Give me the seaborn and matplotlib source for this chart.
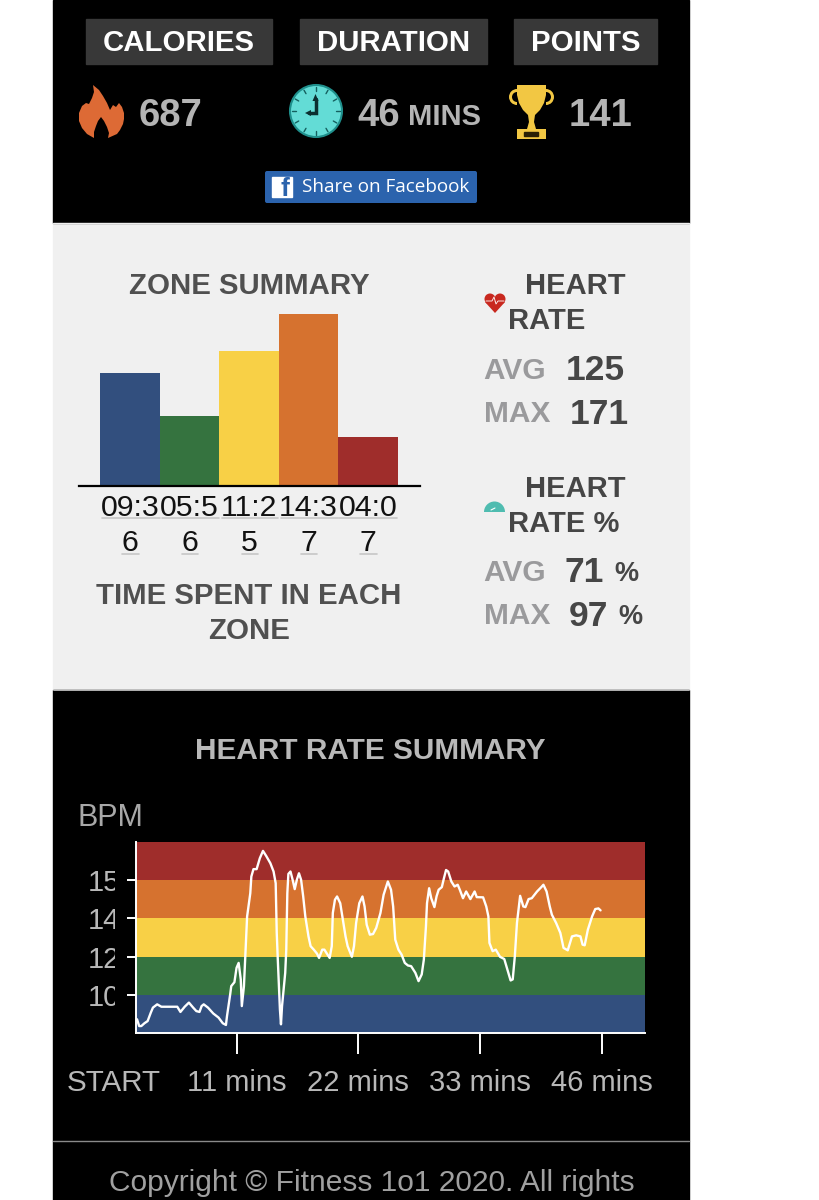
import matplotlib
matplotlib.use('Agg')
import matplotlib.pyplot as plt
from matplotlib.patches import Rectangle, Polygon, Circle, Wedge, FancyBboxPatch
from matplotlib.transforms import Bbox
import numpy as np
import pandas as pd
import seaborn as sns

# zone summary
zone_labels = ['09:36', '05:56', '11:25', '14:37', '04:07']
zone_seconds = [576, 356, 685, 877, 247]
zone_colors = ['#324f7e', '#35733f', '#f8d046', '#d6722f', '#9f2d2b']

# heart rate trace
hr_minutes = [2.0, 2.1, 2.3, 2.5, 2.8, 3.1, 3.4, 3.6, 4.0, 4.4, 5.2, 5.9, 6.2, 6.6, 7.0, 7.4, 7.7, 8.0, 8.2, 8.4,
              8.8, 9.3, 9.8, 10.2, 10.5, 10.6, 10.9, 11.0, 11.3, 11.5, 11.7, 11.9, 12.0, 12.2, 12.3, 12.4, 12.5, 12.8,
              12.9, 13.1, 13.4, 13.7, 14.0, 14.3, 14.7, 15.0, 15.2, 15.3, 15.4, 15.6, 15.7, 15.8, 16.1, 16.2, 16.3,
              16.4, 16.6, 16.8, 17.0, 17.2, 17.4, 17.6, 17.8, 18.0, 18.3, 18.5, 18.8, 19.1, 19.3, 19.6, 19.8, 20.3,
              20.5, 20.6, 20.8, 21.0, 21.3, 21.5, 21.8, 22.0, 22.4, 22.6, 22.8, 23.1, 23.4, 23.6, 23.8, 24.1, 24.4,
              24.7, 25.1, 25.4, 25.8, 26.1, 26.3, 26.5, 26.8, 27.1, 27.4, 27.7, 28.0, 28.4, 28.7, 29.0, 29.2, 29.4,
              29.5, 29.7, 29.9, 30.2, 30.4, 30.6, 30.9, 31.1, 31.3, 31.5, 31.8, 32.1, 32.4, 32.6, 32.9, 33.2, 33.6,
              34.0, 34.2, 34.8, 35.1, 35.3, 35.4, 35.7, 36.0, 36.4, 36.8, 37.1, 37.4, 37.6, 37.8, 38.0, 38.3, 38.6,
              38.8, 39.1, 39.4, 39.9, 40.3, 40.5, 40.8, 41.1, 41.3, 41.7, 42.1, 42.4, 42.8, 43.2, 43.6, 44.0, 44.2,
              44.4, 44.7, 45.1, 45.4, 45.7, 45.9]
hr_bpm = [94.3, 94.3, 91.2, 91.2, 92.5, 93.5, 97.4, 99.7, 101.2, 100.1, 100.1, 100.1, 97.7, 100.1, 102.0, 99.7, 98.1,
          97.7, 100.4, 101.2, 99.7, 97.0, 95.1, 92.5, 91.7, 95.8, 105.8, 109.6, 111.4, 118.0, 120.3, 112.7, 100.4,
          109.6, 120.3, 131.0, 141.7, 152.4, 160.1, 163.5, 163.5, 168.5, 171.9, 169.6, 166.2, 162.4, 157.0, 134.1,
          121.8, 98.9, 92.0, 100.4, 115.7, 126.4, 152.4, 161.3, 162.4, 158.6, 154.3, 158.6, 161.6, 158.6, 150.9,
          141.7, 132.5, 128.0, 126.4, 124.6, 122.6, 126.4, 126.4, 122.6, 128.0, 143.3, 149.4, 150.9, 147.8, 141.7,
          132.5, 128.0, 123.1, 128.0, 138.7, 147.8, 150.9, 146.3, 137.9, 133.3, 133.6, 136.4, 143.3, 151.7, 157.8,
          154.0, 146.3, 131.0, 126.4, 124.1, 120.3, 119.1, 118.8, 115.7, 111.9, 115.0, 121.8, 137.1, 147.8, 154.7,
          150.1, 146.0, 150.9, 154.0, 155.2, 159.3, 163.1, 162.4, 157.8, 155.5, 156.3, 154.0, 150.1, 153.2, 149.7,
          153.2, 150.6, 150.5, 146.3, 141.7, 129.5, 125.7, 126.4, 123.1, 122.1, 117.2, 112.2, 112.7, 123.4, 138.7,
          151.2, 146.3, 146.0, 149.7, 150.1, 153.2, 155.2, 156.3, 153.2, 146.3, 142.5, 138.7, 134.1, 127.2, 126.1,
          132.5, 133.0, 132.5, 128.7, 128.4, 135.6, 141.7, 145.1, 145.4, 144.5]
hr_band_edges = [88, 105.6, 123.2, 140.8, 158.4, 176]
hr_ticks = [105.6, 123.2, 140.8, 158.4]
hr_tick_labels = ['105', '123', '140', '158']
time_ticks = [11.5, 23, 34.5, 46]
time_labels = ['11 mins', '22 mins', '33 mins', '46 mins']

W, H = 819, 1200
sns.set_theme(style='white')
plt.rcParams['font.family'] = ['Liberation Sans', 'DejaVu Sans']
fig = plt.figure(figsize=(W / 100, H / 100), dpi=100, facecolor='white')


def px_axes(left, top, right, bottom):
    return fig.add_axes([left / W, 1 - bottom / H, (right - left) / W, (bottom - top) / H])


# page layer, in pixels
page = fig.add_axes([0, 0, 1, 1])
page.set_xlim(0, W)
page.set_ylim(H, 0)
page.axis('off')
page.add_patch(Rectangle((53, 0), 636, 223, color='black'))
page.add_patch(Rectangle((53, 223), 636, 467, color='#f0f0f0'))
page.add_patch(Rectangle((53, 690), 636, 510, color='black'))
page.plot([53, 689], [1141, 1141], color='#8a8a8a', lw=1)
page.plot([53, 689], [223.5, 223.5], color='#d0d0d0', lw=0.6)
page.plot([53, 689], [689.5, 689.5], color='#d0d0d0', lw=0.6)


def txt(x, y, s, size, color, weight='normal', ha='left'):
    # +2 because va center sits a little high for caps
    return page.text(x, y + 2, s, fontsize=size, color=color, fontweight=weight, ha=ha, va='center')


# header boxes
for x0, x1, label in [(86, 272, 'CALORIES'), (300, 487, 'DURATION'), (514, 657, 'POINTS')]:
    page.add_patch(Rectangle((x0, 19), x1 - x0, 45, color='#383838'))
    txt((x0 + x1) / 2, 41, label, 21.2, 'white', 'bold', 'center')

grey = '#b4b4b4'
txt(139, 114, '687', 27.5, grey, 'bold')
txt(357, 114, '46', 27.5, grey, 'bold')
txt(408, 115, 'MINS', 21, grey, 'bold')
txt(569, 114, '141', 27.5, grey, 'bold')

# flame
page.add_patch(Polygon([(93, 85), (99, 90), (103, 96), (107, 103), (110, 110), (113, 105), (116, 107), (119, 103),
                        (122, 107), (124, 113), (124, 119), (123, 124), (120, 130), (117, 134), (108, 138), (109, 133),
                        (107, 127), (104, 121), (101, 117), (98, 121), (96, 126), (94, 132), (94, 138), (87, 134),
                        (82, 128), (79, 121), (79, 113), (82, 106), (86, 103), (89, 104), (92, 98), (94, 92)],
                       closed=True, color='#dd6a35', lw=0))
# clock
page.add_patch(Circle((316, 111), 26, fc='#63dcd6', ec='#1f8f8c', lw=1.5))
for a in np.arange(0, 360, 30):
    ca, sa = np.cos(np.radians(a)), np.sin(np.radians(a))
    page.plot([316 + 20 * ca, 316 + 24 * ca], [111 + 20 * sa, 111 + 24 * sa], color='#15605f', lw=1)
page.plot([315.5, 315.5, 309], [99, 113, 113], color='#0c2f30', lw=2.5, solid_joinstyle='miter')
page.add_patch(Polygon([(315.5, 94), (312.5, 101), (318.5, 101)], closed=True, color='#0c2f30', lw=0))
page.add_patch(Polygon([(305, 113), (311, 110), (311, 116)], closed=True, color='#0c2f30', lw=0))
# trophy
page.add_patch(Polygon([(517, 85), (546, 85), (546, 95), (544, 103), (540, 110), (535, 115), (534, 122), (536, 129),
                        (546, 129), (546, 139), (517, 139), (517, 129), (527, 129), (529, 122), (528, 115),
                        (523, 110), (519, 103), (517, 95)],
                       closed=True, color='#f2c743', lw=0))
page.add_patch(Rectangle((524, 132), 14, 3.5, color='#2a2005'))
page.add_patch(Wedge((517, 97), 8, 90, 270, width=3, color='#f2c743', lw=0))
page.add_patch(Wedge((546, 97), 8, -90, 90, width=3, color='#f2c743', lw=0))

# facebook button
page.add_patch(FancyBboxPatch((265, 171), 212, 32, boxstyle='round,pad=0,rounding_size=2', fc='#2b63ad', ec='none'))
page.add_patch(Rectangle((272, 177), 20, 20, color='white'))
txt(285, 187, 'f', 19, '#2b63ad', 'bold', 'center')
share = txt(302, 185, 'Share on Facebook', 13.6, 'white', 'normal')
share.set_family(['Open Sans', 'DejaVu Sans'])

# zone panel text
dark = '#464646'
mid = '#9a9a9c'
txt(249, 284, 'ZONE SUMMARY', 21.2, '#505050', 'bold', 'center')
txt(249, 594, 'TIME SPENT IN EACH', 21.2, '#505050', 'bold', 'center')
txt(249, 629, 'ZONE', 21.2, '#505050', 'bold', 'center')

txt(525, 284, 'HEART', 21, dark, 'bold')
txt(508, 319, 'RATE', 21, dark, 'bold')
txt(525, 487, 'HEART', 21, dark, 'bold')
txt(508, 522, 'RATE %', 21, dark, 'bold')
for y, lab, x, val, unit in [(369, 'AVG', 566, '125', ''), (412, 'MAX', 570, '171', ''),
                             (571, 'AVG', 565, '71', '%'), (614, 'MAX', 569, '97', '%')]:
    txt(483.5, y, lab, 21.5, mid, 'bold')
    txt(x, y, val, 25.5, dark, 'bold')
    if unit:
        txt(x + 49, y + 1, unit, 19.5, dark, 'bold')

# heart icon
page.add_patch(Circle((490, 299), 5.5, color='#c8281f', lw=0))
page.add_patch(Circle((500, 299), 5.5, color='#c8281f', lw=0))
page.add_patch(Polygon([(485, 302), (505, 302), (495, 313)], closed=True, color='#c8281f', lw=0))
page.plot([486, 492, 494, 496, 498, 504], [301, 301, 297, 304, 301, 301], color='white', lw=0.6)
# gauge icon, y runs downward on this layer
page.add_patch(Wedge((494.5, 512), 10.5, 180, 360, color='#4fbcb0', lw=0))
page.plot([491, 495], [510, 508], color='white', lw=0.8)

# heart rate panel text
txt(370, 749, 'HEART RATE SUMMARY', 21.4, '#b9b9b9', 'bold', 'center')
txt(77, 816, 'BPM', 22, '#a8a8a8')
txt(114, 1081, 'START', 21.3, '#b8b8b8', 'normal', 'center')
txt(109, 1181, 'Copyright \u00a9 Fitness 1o1 2020. All rights', 21.5, '#a0a0a0')

# zone bars
ax1 = px_axes(79, 300, 420, 486)
zone_df = pd.DataFrame({'zone': zone_labels, 'seconds': zone_seconds})
sns.barplot(data=zone_df, x='zone', y='seconds', hue='zone', palette=zone_colors, legend=False,
            width=1.0, saturation=1, linewidth=0, edgecolor='none', ax=ax1)
ax1.set_xlim(-0.856, 4.87)
ax1.set_ylim(0, 186 / 0.1965)
ax1.set_xlabel('')
ax1.set_ylabel('')
ax1.set_yticks([])
ax1.patch.set_alpha(0)
sns.despine(ax=ax1, left=True)
ax1.spines['bottom'].set_color('black')
ax1.spines['bottom'].set_linewidth(1.6)
ax1.set_xticks(range(5))
# labels wrap in their narrow cells
ax1.set_xticklabels([z[:4] + '\n' + z[4:] for z in zone_labels], fontsize=21.8, color='#111111', linespacing=1.32)
ax1.tick_params(axis='x', length=0, pad=5.5)

# link underlines below the time labels
for x0, x1 in [(102, 160), (162, 219), (222, 278), (281, 338), (339, 397)]:
    page.plot([x0, x1], [518, 518], color='#c6c6c6', lw=1.2, zorder=5)
for x0, x1 in [(122, 139), (182, 198), (242, 258), (301, 317), (360, 377)]:
    page.plot([x0, x1], [554, 554], color='#c6c6c6', lw=1.2, zorder=5)

# heart rate chart
ax2 = px_axes(136, 842, 645, 1033)
for lo, hi, c in zip(hr_band_edges[:-1], hr_band_edges[1:], zone_colors):
    ax2.axhspan(lo, hi, color=c, lw=0, zorder=0)
hr_df = pd.DataFrame({'minute': hr_minutes, 'bpm': hr_bpm})
sns.lineplot(data=hr_df, x='minute', y='bpm', color='white', lw=1.7, ax=ax2, zorder=3)
ax2.set_xlim(2.0, 50.1)
ax2.set_ylim(88, 176)
ax2.set_xlabel('')
ax2.set_ylabel('')
ax2.set_xticks(time_ticks)
ax2.set_xticklabels(time_labels, fontsize=21, color='#b8b8b8')
ax2.set_yticks(hr_ticks)
ax2.set_yticklabels(hr_tick_labels, fontsize=21, color='#b8b8b8', ha='left')
ax2.tick_params(axis='x', bottom=True, length=15, width=1.4, color='white', pad=11)
ax2.tick_params(axis='y', left=True, length=6.5, width=1.4, color='white', pad=28)
# the third digit is cut off in the original page
for lab in ax2.get_yticklabels():
    lab.set_clip_on(True)
    lab.set_clip_box(Bbox([[0, 0], [115, H]]))
sns.despine(ax=ax2)
for side in ['left', 'bottom']:
    ax2.spines[side].set_color('white')
    ax2.spines[side].set_linewidth(1.4)

fig.savefig('out.png', dpi=100, facecolor='white')
